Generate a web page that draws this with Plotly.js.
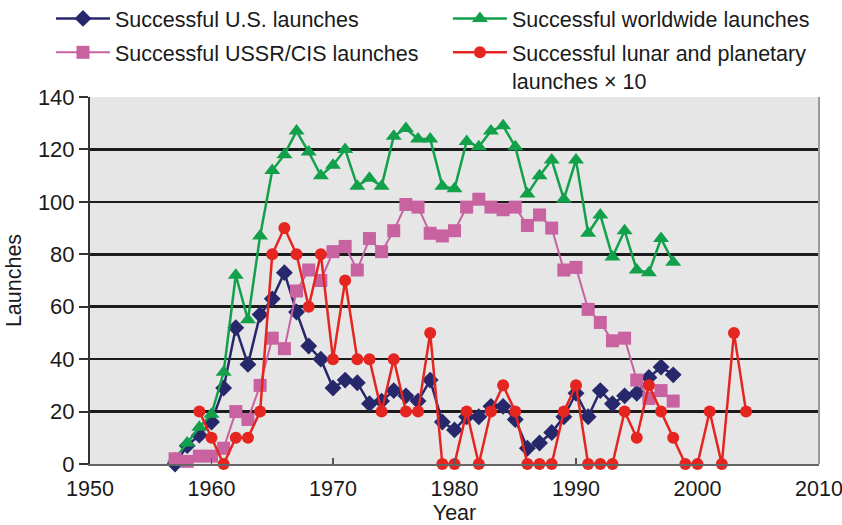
<!DOCTYPE html>
<html>
<head>
<meta charset="utf-8">
<script src="https://cdn.plot.ly/plotly-3.0.1.min.js"></script>
<style>html,body{margin:0;padding:0;background:#fff;}#chart{width:842px;height:525px;}</style>
</head>
<body>
<div id="chart"></div>
<script>
const years = [1957,1958,1959,1960,1961,1962,1963,1964,1965,1966,1967,1968,1969,1970,1971,1972,1973,1974,1975,1976,1977,1978,1979,1980,1981,1982,1983,1984,1985,1986,1987,1988,1989,1990,1991,1992,1993,1994,1995,1996,1997,1998];
const usLaunches = [0,7,11,16,29,52,38,57,63,73,58,45,40,29,32,31,23,24,28,26,24,32,16,13,18,18,22,22,17,6,8,12,18,27,18,28,23,26,27,33,37,34];
const worldLaunches = [2,8,14,19,35,72,55,87,112,118,127,119,110,114,120,106,109,106,125,128,124,124,106,105,123,121,127,129,121,103,110,116,101,116,88,95,79,89,74,73,86,77];
const ussrLaunches = [2,1,3,3,6,20,17,30,48,44,66,74,70,81,83,74,86,81,89,99,98,88,87,89,98,101,98,97,98,91,95,90,74,75,59,54,47,48,32,25,28,24];
const lunarYears = [1959,1960,1961,1962,1963,1964,1965,1966,1967,1968,1969,1970,1971,1972,1973,1974,1975,1976,1977,1978,1979,1980,1981,1982,1983,1984,1985,1986,1987,1988,1989,1990,1991,1992,1993,1994,1995,1996,1997,1998,1999,2000,2001,2002,2003,2004];
const lunarX10 = [20,10,0,10,10,20,80,90,80,60,80,40,70,40,40,20,40,20,20,50,0,0,20,0,20,30,20,0,0,0,20,30,0,0,0,20,10,30,20,10,0,0,20,0,50,20];
const xTicks = [1950,1960,1970,1980,1990,2000,2010];
const yTicks = [0,20,40,60,80,100,120,140];

const FONT = '"Liberation Sans", Arial, Helvetica, sans-serif';
const navy = '#27276b', green = '#12a04a', pink = '#c862a0', red = '#e52520';

const traces = [
  {x: years, y: usLaunches, name: 'Successful U.S. launches', mode: 'lines+markers', legend: 'legend', legendgroup: 'us',
   line: {color: navy, width: 2.5}, marker: {symbol: 'diamond', size: 13, color: navy}, cliponaxis: false},
  {x: years, y: worldLaunches, name: 'Successful worldwide launches', mode: 'lines+markers', legend: 'legend2', legendgroup: 'world',
   line: {color: green, width: 2.5}, marker: {symbol: 'triangle-up', size: 14, color: green}, cliponaxis: false},
  {x: years, y: ussrLaunches, name: 'Successful USSR/CIS launches', mode: 'lines+markers', legend: 'legend', legendgroup: 'ussr',
   line: {color: pink, width: 2}, marker: {symbol: 'square', size: 13, color: pink}, cliponaxis: false},
  {x: lunarYears, y: lunarX10, name: 'Successful lunar and planetary<br>launches \u00d7 10', mode: 'lines+markers', legend: 'legend2', legendgroup: 'lunar',
   line: {color: red, width: 2.5}, marker: {symbol: 'circle', size: 12, color: red}, cliponaxis: false}
];

const legendBase = {orientation: 'v', xanchor: 'left', yanchor: 'top', bgcolor: 'rgba(0,0,0,0)',
  font: {family: FONT, size: 21.5, color: '#1a1a1a'}, itemwidth: 54, valign: 'top', tracegroupgap: 3};

const layout = {
  width: 842, height: 525,
  margin: {l: 90, r: 23, t: 97, b: 61, autoexpand: false},
  paper_bgcolor: '#ffffff', plot_bgcolor: '#e6e6e6',
  font: {family: FONT, size: 22, color: '#1a1a1a'},
  showlegend: true,
  legend: Object.assign({}, legendBase, {x: -0.0535, y: 1.27}),
  legend2: Object.assign({}, legendBase, {x: 0.491, y: 1.27}),
  xaxis: {range: [1950, 2010], tickvals: xTicks, ticktext: xTicks.map(String), ticks: 'inside', ticklen: 6,
    tickcolor: '#555', tickwidth: 1.5, showgrid: false, zeroline: false, showline: true, linecolor: '#666', linewidth: 2,
    ticklabelstandoff: 4, ticklabeloverflow: 'allow', tickfont: {family: FONT, size: 21.5, color: '#1a1a1a'},
    automargin: false,
    title: {text: 'Year', font: {family: FONT, size: 21.5, color: '#1a1a1a'}, standoff: 0}},
  yaxis: {range: [0, 140], tickvals: yTicks, ticks: 'outside', ticklen: 9, tickcolor: '#333', tickwidth: 2,
    showgrid: true, gridcolor: '#1c1c1c', gridwidth: 2.5, zeroline: false, showline: true, linecolor: '#333', linewidth: 2,
    tickfont: {family: FONT, size: 22, color: '#1a1a1a'}, automargin: false,
    title: {text: 'Launches', font: {family: FONT, size: 21.5, color: '#1a1a1a'}, standoff: 10}},
  shapes: [{type: 'line', xref: 'paper', yref: 'paper', x0: 1, x1: 1, y0: 0, y1: 1, line: {color: '#999', width: 2}}]
};

Plotly.newPlot('chart', traces, layout, {displayModeBar: false, staticPlot: true});
</script>
</body>
</html>
